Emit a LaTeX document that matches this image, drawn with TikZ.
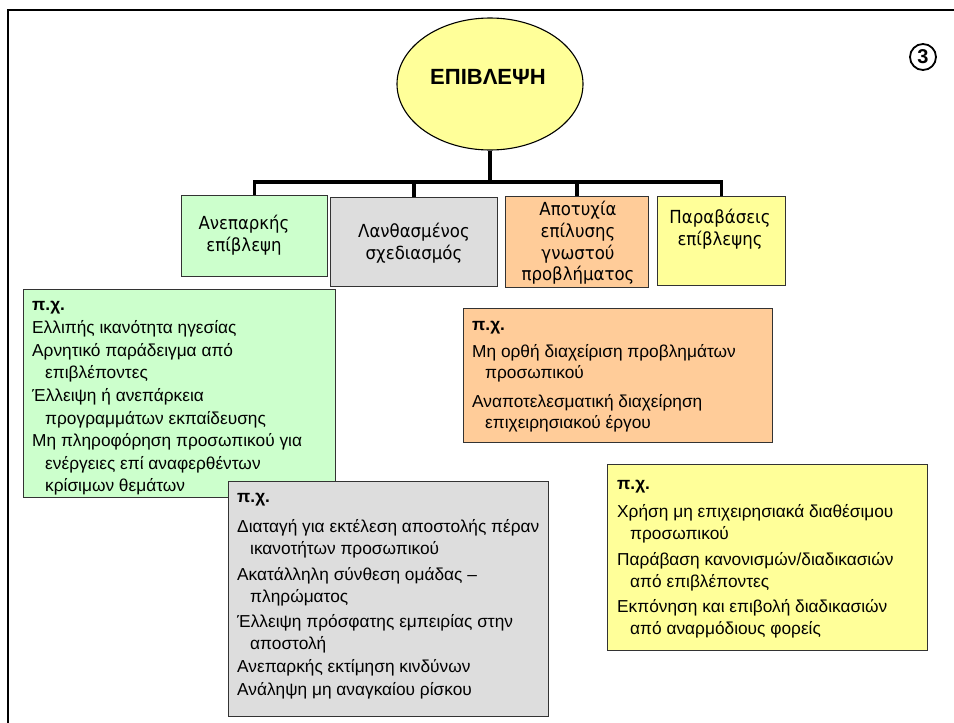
\documentclass[tikz,border=0pt]{standalone}
\usepackage{fontspec}
\setmainfont{Liberation Sans}
\newfontfamily\headfont{DejaVu Sans}[FakeStretch=0.92]
\usetikzlibrary{shapes.geometric}

\definecolor{ovalfill}{HTML}{FFFF99}
\definecolor{greenfill}{HTML}{CCFFCC}
\definecolor{greyfill}{HTML}{DDDDDD}
\definecolor{orangefill}{HTML}{FFCC99}
\definecolor{yellowfill}{HTML}{FFFF99}

\tikzset{
  conn/.style={line width=3.4pt},
  frameline/.style={line width=2pt},
  box/.style={draw=black!80, line width=1.1pt, inner sep=0pt, anchor=north west},
  headtext/.style={font=\headfont\fontsize{18}{21.7}\selectfont, align=center, inner sep=0pt},
  exline/.style={anchor=base west, inner sep=0pt, font=\fontsize{17.3}{20}\selectfont},
}

\begin{document}
\begin{tikzpicture}[x=1pt, y=-1pt]
\useasboundingbox (0,0) rectangle (954,723);

% page frame (top and left edges)
\coordinate (ftl) at (8,10);
\coordinate (ftr) at (954,10);
\coordinate (fbl) at (8,723);
\draw[frameline] (fbl) -- (ftl) -- (ftr);

% circled number
\node[circle, draw, line width=1.8pt, minimum size=26pt, inner sep=0pt,
      font=\bfseries\fontsize{20}{20}\selectfont] (num) at (923,57) {3};

% central oval
\node[ellipse, draw, line width=1.1pt, fill=ovalfill, minimum width=186pt,
      minimum height=132pt, inner sep=0pt] (oval) at (490,84) {};
\node[font=\bfseries\fontsize{22}{22}\selectfont, inner sep=0pt] (title) at (488,77) {ΕΠΙΒΛΕΨΗ};

% category boxes
\node[box, fill=greenfill,  minimum width=146pt, minimum height=81pt] (h1) at (181,195) {};
\node[box, fill=greyfill,   minimum width=167pt, minimum height=89pt] (h2) at (330,197) {};
\node[box, fill=orangefill, minimum width=143pt, minimum height=91pt] (h3) at (505,196) {};
\node[box, fill=yellowfill, minimum width=128pt, minimum height=89pt] (h4) at (657,196) {};

\node[headtext] (t1) at (244,235) {Ανεπαρκής\\επίβλεψη};
\node[headtext] (t2) at (414,243) {Λανθασμένος\\σχεδιασμός};
\node[headtext] (t3) at (578,243) {Αποτυχία\\επίλυσης\\γνωστού\\προβλήματος};
\node[headtext] (t4) at (720,229) {Παραβάσεις\\επίβλεψης};

% tree connectors
\coordinate (bar) at (487,182);
\draw[conn] (oval.south) -- (oval.south |- bar);
\draw[conn] (h1.north) -- (h1.north |- bar) -- (h4.north |- bar) -- (h4.north);
\draw[conn] (h2.north) -- (h2.north |- bar);
\draw[conn] (h3.north) -- (h3.north |- bar);

% example boxes
\node[box, fill=greenfill,  minimum width=312pt, minimum height=208pt] (e1) at (23,289) {};
\node[box, fill=orangefill, minimum width=309pt, minimum height=134pt] (e3) at (463,308) {};
\node[box, fill=greyfill,   minimum width=320pt, minimum height=235pt] (e2) at (228,481) {};
\node[box, fill=yellowfill, minimum width=320pt, minimum height=186pt] (e4) at (607,464) {};

% example texts: baseline / left edge / line
\foreach \yy/\xx/\txt [count=\i] in {
  310/32/{\textbf{π.χ.}},
  333/32/{Ελλιπής ικανότητα ηγεσίας},
  356/32/{Αρνητικό παράδειγμα από},
  378/45/{επιβλέποντες},
  401/32/{Έλλειψη ή ανεπάρκεια},
  424/45/{προγραμμάτων εκπαίδευσης},
  446/32/{Μη πληροφόρηση προσωπικού για},
  469/45/{ενέργειες επί αναφερθέντων},
  491/45/{κρίσιμων θεμάτων}}
  \node[exline] (g\i) at (\xx,\yy) {\txt};

\foreach \yy/\xx/\txt [count=\i] in {
  330/472/{\textbf{π.χ.}},
  357/472/{Μη ορθή διαχείριση προβλημάτων},
  378/485/{προσωπικού},
  407/472/{Αναποτελεσματική διαχείρηση},
  428/485/{επιχειρησιακού έργου}}
  \node[exline] (o\i) at (\xx,\yy) {\txt};

\foreach \yy/\xx/\txt [count=\i] in {
  502/237/{\textbf{π.χ.}},
  532/237/{Διαταγή για εκτέλεση αποστολής πέραν},
  554/250/{ικανοτήτων προσωπικού},
  580/237/{Ακατάλληλη σύνθεση ομάδας –},
  602/250/{πληρώματος},
  627/237/{Έλλειψη πρόσφατης εμπειρίας στην},
  649/250/{αποστολή},
  672/237/{Ανεπαρκής εκτίμηση κινδύνων},
  695/237/{Ανάληψη μη αναγκαίου ρίσκου}}
  \node[exline] (s\i) at (\xx,\yy) {\txt};

\foreach \yy/\xx/\txt [count=\i] in {
  489/617/{\textbf{π.χ.}},
  517/617/{Χρήση μη επιχειρησιακά διαθέσιμου},
  539/630/{προσωπικού},
  565/617/{Παράβαση κανονισμών/διαδικασιών},
  587/630/{από επιβλέποντες},
  612/617/{Εκπόνηση και επιβολή διαδικασιών},
  634/630/{από αναρμόδιους φορείς}}
  \node[exline] (y\i) at (\xx,\yy) {\txt};
\end{tikzpicture}
\end{document}
